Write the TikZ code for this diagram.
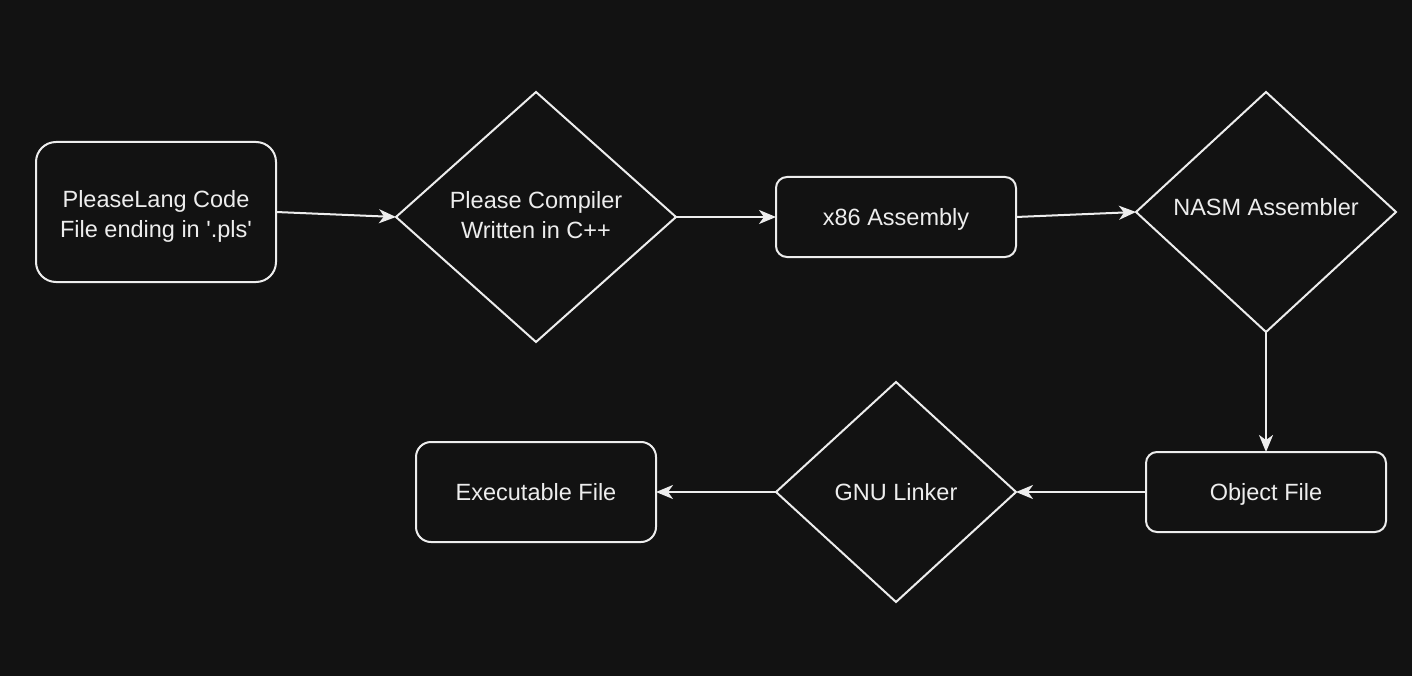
\documentclass[tikz,border=0pt]{standalone}
\usepackage{fontspec}
\setmainfont{Liberation Sans}
\usetikzlibrary{shapes.geometric,arrows.meta}
\definecolor{bg}{HTML}{121212}
\definecolor{fg}{HTML}{EDEDED}
\begin{document}
\begin{tikzpicture}[x=1pt,y=-1pt,
  base/.style={draw=fg,line width=2pt,text=fg,font=\fontsize{23.5}{30}\selectfont,align=center,inner sep=0pt,outer sep=0pt},
  rbox/.style={base,rectangle,minimum width=240pt},
  dia/.style={base,diamond,aspect=1},
  one/.style={text height=22pt,text depth=5.2pt},
  conn/.style={draw=fg,line width=2pt,-{Stealth[length=17pt,width=14pt,inset=5pt]}}]
\fill[bg] (0,0) rectangle (1412,676);
\useasboundingbox (0,0) rectangle (1412,676);
\node[rbox,rounded corners=20pt,minimum height=140pt,text height=55pt,text depth=5pt] (src) at (156,212) {PleaseLang Code\\File ending in \textquotesingle.pls\textquotesingle};
\node[dia,minimum width=280pt,minimum height=250pt,text height=48pt,text depth=5.2pt] (comp) at (536,217) {Please Compiler\\Written in C++};
\node[rbox,one,rounded corners=11pt,minimum height=80pt] (asm) at (896,217) {x86 Assembly};
\node[dia,minimum width=260pt,minimum height=240pt,text height=14pt,text depth=7.2pt] (nasm) at (1266,212) {NASM Assembler};
\node[rbox,one,rounded corners=11pt,minimum height=80pt] (obj) at (1266,492) {Object File};
\node[dia,one,minimum width=240pt,minimum height=220pt] (ld) at (896,492) {GNU Linker};
\node[rbox,one,rounded corners=15pt,minimum height=100pt] (exe) at (536,492) {Executable File};
\draw[conn] (src.east) -- (comp.west);
\draw[conn] (comp.east) -- (asm.west);
\draw[conn] (asm.east) -- (nasm.west);
\draw[conn] (nasm.south) -- (obj.north);
\draw[conn] (obj.west) -- (ld.east);
\draw[conn] (ld.west) -- (exe.east);
\end{tikzpicture}
\end{document}
